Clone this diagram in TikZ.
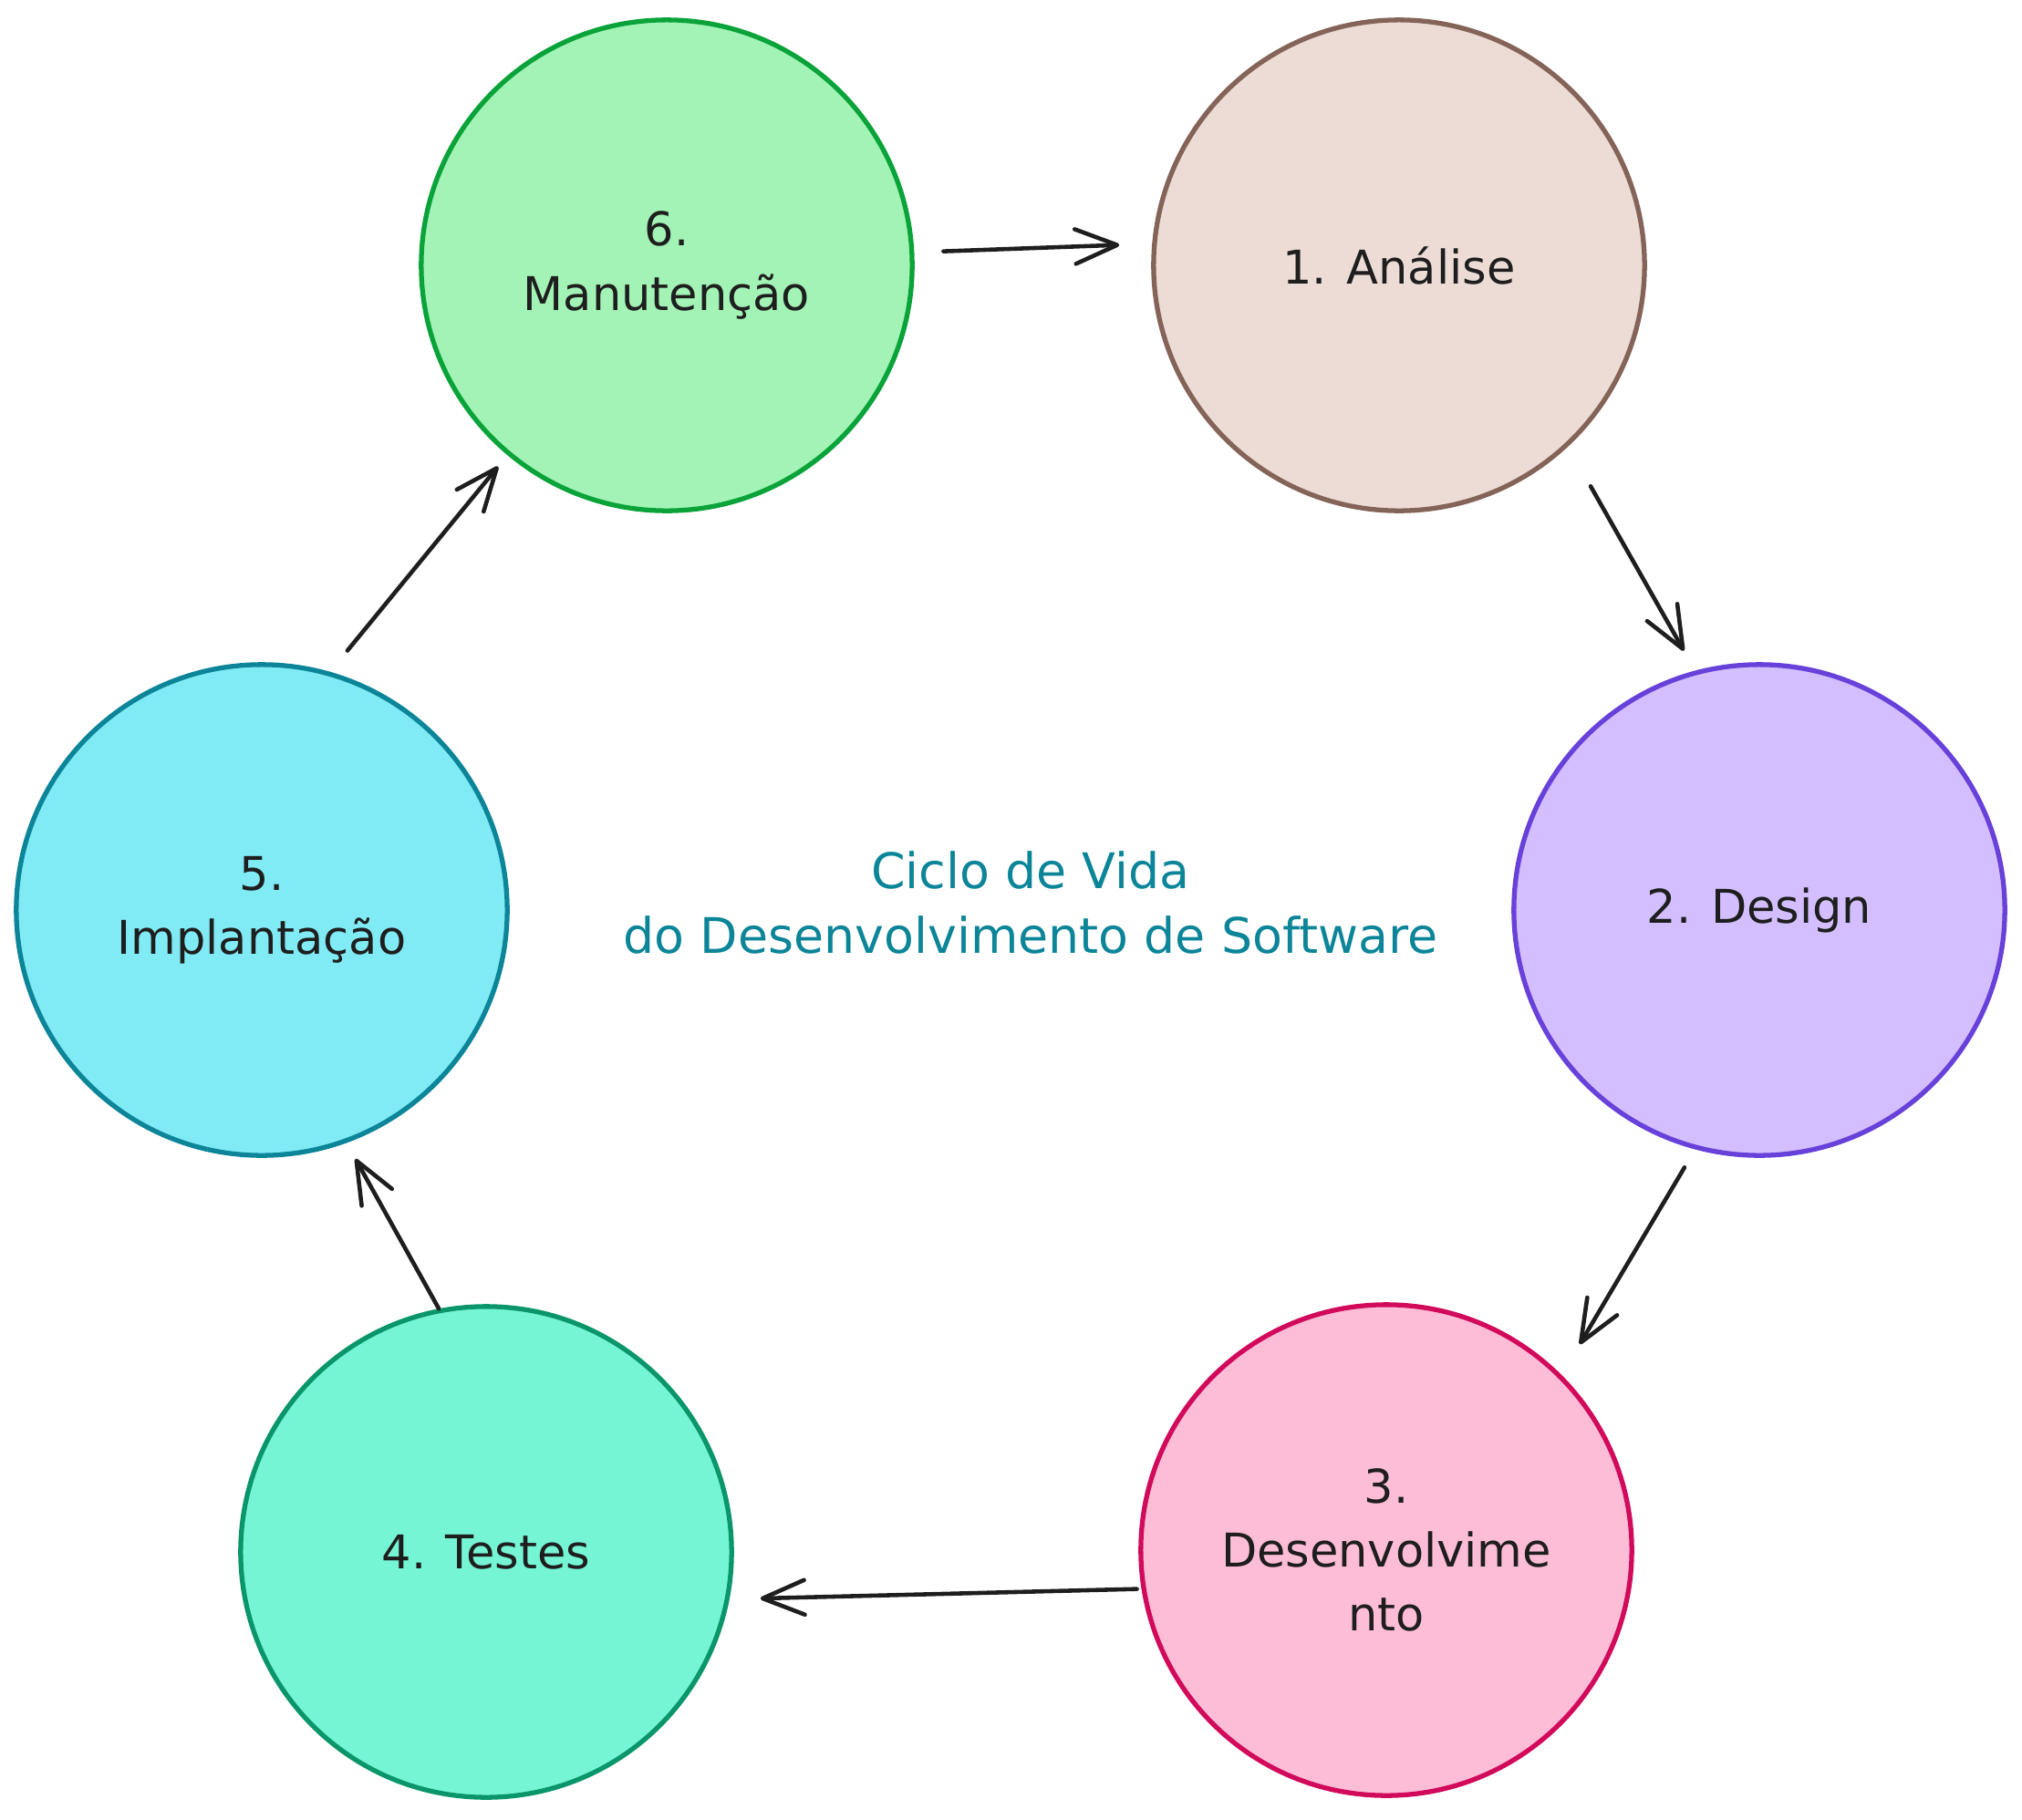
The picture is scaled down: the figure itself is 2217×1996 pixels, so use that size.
\documentclass[tikz,border=0pt]{standalone}
\usepackage{fontspec}
\setmainfont{DejaVu Sans}
\usetikzlibrary{arrows.meta}
\definecolor{ink}{HTML}{1E1E1E}
\definecolor{teal}{HTML}{0C8599}
\definecolor{gfill}{HTML}{A2F3B5}\definecolor{gdraw}{HTML}{0AA33A}
\definecolor{bfill}{HTML}{ECDCD5}\definecolor{bdraw}{HTML}{846358}
\definecolor{vfill}{HTML}{D3BFFF}\definecolor{vdraw}{HTML}{6741D9}
\definecolor{pfill}{HTML}{FDBDD7}\definecolor{pdraw}{HTML}{D10A5B}
\definecolor{tfill}{HTML}{76F5D5}\definecolor{tdraw}{HTML}{0A966A}
\definecolor{cfill}{HTML}{80EBF5}\definecolor{cdraw}{HTML}{0C8599}
\begin{document}
\begin{tikzpicture}[x=0.01cm,y=-0.01cm,
  phase/.style={circle, draw, line width=1.5pt, minimum size=5.38cm, inner sep=0pt,
    align=center, text=ink, font=\fontsize{14.5}{20}\selectfont},
  flow/.style={draw=ink, line width=1.3pt, line cap=round,
    -{Straight Barb[length=4.6mm,width=3.8mm,line width=1.3pt,round]}},
  title/.style={align=center, text=teal, font=\fontsize{15.3}{20}\selectfont}
]
\useasboundingbox (0,0) rectangle (2217,1996);
\node[phase, fill=gfill, draw=gdraw] (c6) at (731,291) {6.\\Manutenção};
\node[phase, fill=bfill, draw=bdraw] (c1) at (1534,291) {1. Análise};
\node[phase, fill=vfill, draw=vdraw] (c2) at (1929,998) {2. Design};
\node[phase, fill=pfill, draw=pdraw] (c3) at (1520,1700) {3.\\Desenvolvime\\nto};
\node[phase, fill=tfill, draw=tdraw] (c4) at (533,1702) {4. Testes};
\node[phase, fill=cfill, draw=cdraw] (c5) at (287,998) {5.\\Implantação};
\node[title] (t) at (1130,990) {Ciclo de Vida\\do Desenvolvimento de Software};
\draw[flow, shorten <=0.32cm, shorten >=0.36cm] (c6.3) -- (c1.175);
\draw[flow, shorten <=0.50cm, shorten >=0.25cm] (c1.-47) -- (c2.105);
\draw[flow, shorten <=0.23cm, shorten >=0.39cm] (c2.255) -- (c3.45);
\draw[flow, shorten <=0.05cm, shorten >=0.34cm] (c3.189) -- (c4.-11);
\draw[flow, shorten <=0.0cm, shorten >=0.20cm] (c4.101) -- (c5.-70);
\draw[flow, shorten <=0.30cm, shorten >=0.16cm] (c5.74) -- (c6.230);
\end{tikzpicture}
\end{document}
